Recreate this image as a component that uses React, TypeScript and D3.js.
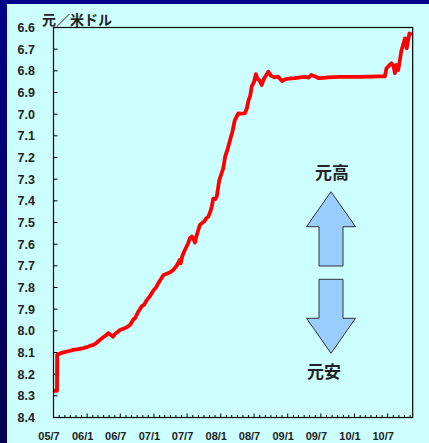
import React from 'react'
import * as d3 from 'd3'

// 人民元の対ドルレート（元／米ドル）
const dates = [
  '2005-07-01', '2005-07-20', '2005-07-21', '2005-08-10', '2005-09-05', '2005-10-01', '2005-10-17',
  '2005-11-15', '2005-12-11', '2006-01-05', '2006-01-20', '2006-02-05', '2006-02-22', '2006-03-11',
  '2006-03-30', '2006-04-15', '2006-04-26', '2006-05-08', '2006-05-23', '2006-06-05', '2006-06-18',
  '2006-06-29', '2006-07-20', '2006-08-08', '2006-08-23', '2006-09-12', '2006-09-20', '2006-10-07',
  '2006-10-28', '2006-11-08', '2006-11-23', '2006-12-10', '2006-12-28', '2007-01-12', '2007-01-25',
  '2007-02-10', '2007-02-22', '2007-03-15', '2007-04-02', '2007-04-16', '2007-05-05', '2007-05-22',
  '2007-05-27', '2007-06-05', '2007-06-19', '2007-07-05', '2007-07-16', '2007-07-28', '2007-08-06',
  '2007-08-13', '2007-08-22', '2007-09-09', '2007-09-25', '2007-10-05', '2007-10-12', '2007-10-25',
  '2007-11-05', '2007-11-13', '2007-11-21', '2007-12-03', '2007-12-10', '2007-12-24', '2008-01-10',
  '2008-01-15', '2008-01-25', '2008-02-08', '2008-02-21', '2008-03-05', '2008-03-18', '2008-04-06',
  '2008-04-22', '2008-05-12', '2008-05-22', '2008-06-01', '2008-06-10', '2008-06-18', '2008-07-01',
  '2008-07-11', '2008-07-20', '2008-08-01', '2008-08-12', '2008-08-25', '2008-09-05', '2008-09-17',
  '2008-10-01', '2008-10-20', '2008-11-10', '2008-12-01', '2008-12-20', '2009-01-15', '2009-02-10',
  '2009-03-10', '2009-04-05', '2009-04-25', '2009-05-10', '2009-06-01', '2009-06-20', '2009-07-15',
  '2009-08-10', '2009-09-10', '2009-10-10', '2009-11-10', '2009-12-10', '2010-01-10', '2010-02-10',
  '2010-03-10', '2010-04-10', '2010-05-10', '2010-06-16', '2010-06-25', '2010-07-10', '2010-07-22',
  '2010-08-02', '2010-08-10', '2010-08-16', '2010-08-22', '2010-08-28', '2010-09-15', '2010-10-04',
  '2010-10-13', '2010-10-28', '2010-11-10',
]
const rates = [
  8.2765, 8.2765, 8.110, 8.103, 8.097, 8.092, 8.088,
  8.084, 8.080, 8.074, 8.068, 8.065, 8.055, 8.042,
  8.030, 8.020, 8.011, 8.017, 8.027, 8.012, 8.004,
  7.996, 7.990, 7.982, 7.973, 7.945, 7.942, 7.912,
  7.885, 7.880, 7.858, 7.840, 7.815, 7.800, 7.780,
  7.758, 7.742, 7.735, 7.728, 7.719, 7.700, 7.673,
  7.688, 7.655, 7.627, 7.600, 7.573, 7.565, 7.578,
  7.593, 7.560, 7.511, 7.500, 7.493, 7.482, 7.473,
  7.450, 7.427, 7.390, 7.392, 7.381, 7.304, 7.262,
  7.250, 7.196, 7.160, 7.119, 7.080, 7.027, 6.996,
  6.998, 6.996, 6.975, 6.935, 6.915, 6.873, 6.850,
  6.815, 6.838, 6.845, 6.865, 6.835, 6.820, 6.804,
  6.822, 6.830, 6.827, 6.847, 6.838, 6.835, 6.834,
  6.830, 6.828, 6.831, 6.819, 6.826, 6.834, 6.832,
  6.830, 6.829, 6.828, 6.828, 6.828, 6.828, 6.828,
  6.827, 6.827, 6.826, 6.826, 6.788, 6.775, 6.765,
  6.778, 6.811, 6.773, 6.785, 6.796, 6.704, 6.650,
  6.696, 6.627, 6.635,
]

const yTickValues = [6.6, 6.7, 6.8, 6.9, 7.0, 7.1, 7.2, 7.3, 7.4, 7.5, 7.6, 7.7, 7.8, 7.9, 8.0, 8.1, 8.2, 8.3, 8.4]
const xTickDates = ['2005-07-01', '2006-01-01', '2006-07-01', '2007-01-01', '2007-07-01', '2008-01-01',
  '2008-07-01', '2009-01-01', '2009-07-01', '2010-01-01', '2010-07-01']
const xTickLabels = ['05/7', '06/1', '06/7', '07/1', '07/7', '08/1', '08/7', '09/1', '09/7', '10/1', '10/7']

const W = 429
const H = 443
const plot = { left: 53.5, top: 27.5, right: 412.7, bottom: 417.5 }

const parse = d3.timeParse('%Y-%m-%d')

export default function App() {
  const x = d3.scaleTime()
    .domain([new Date(2005, 6, 1), new Date(2010, 10, 15)])
    .range([plot.left, plot.right])
  const y = d3.scaleLinear().domain([6.6, 8.4]).range([plot.top, plot.bottom])

  const points = dates.map((d, i) => [parse(d) as Date, rates[i]] as [Date, number])
  const line = d3.line<[Date, number]>().x(d => x(d[0])).y(d => y(d[1]))

  const months = d3.timeMonth.range(new Date(2005, 7, 1), new Date(2010, 10, 15))

  const numFont = '"Liberation Sans", Arial, sans-serif'
  const jpFont = '"Noto Sans CJK JP", sans-serif'
  const ink = '#222'

  // 矢印（元高／元安）
  const ax = 331
  const upArrow = `M${ax},191.7 L${ax + 24.5},226.7 L${ax + 12},226.7 L${ax + 12},266 L${ax - 12},266 L${ax - 12},226.7 L${ax - 24.5},226.7 Z`
  const downArrow = `M${ax},353.3 L${ax + 24.5},318.3 L${ax + 12},318.3 L${ax + 12},279.3 L${ax - 12},279.3 L${ax - 12},318.3 L${ax - 24.5},318.3 Z`

  return (
    <div style={{ position: 'absolute', left: 0, top: 0 }}>
      <svg width={W} height={H} style={{ display: 'block' }}>
        <defs>
          <linearGradient id="navy" x1="0" y1="0" x2="0" y2="1">
            <stop offset="0" stopColor="#00008a" />
            <stop offset="1" stopColor="#000050" />
          </linearGradient>
        </defs>
        <rect x={0} y={0} width={W} height={H} fill="url(#navy)" />
        <rect x={7} y={4} width={W - 7} height={H - 4} fill="#ccffff" />

        <text x={42} y={25} fontFamily={jpFont} fontSize={14} fontWeight="bold" fill={ink}>元／米ドル</text>

        {/* y axis */}
        {yTickValues.map(v => (
          <g key={v}>
            <line x1={plot.left} x2={plot.left + 4} y1={y(v)} y2={y(v)} stroke="#000" strokeWidth={1} />
            <text x={35} y={y(v)} dy="0.36em" textAnchor="end" fontFamily={numFont} fontSize={12.5}
              fontWeight="bold" fill={ink}>{v.toFixed(1)}</text>
          </g>
        ))}

        {/* x axis */}
        {months.map(m => {
          const major = m.getMonth() === 0 || m.getMonth() === 6
          return (
            <line key={+m} x1={x(m)} x2={x(m)} y1={plot.bottom} y2={plot.bottom - (major ? 4 : 2.5)}
              stroke="#000" strokeWidth={1} />
          )
        })}
        {xTickDates.map((d, i) => (
          <text key={d} x={x(parse(d) as Date) - 4.5} y={440} textAnchor="middle" fontFamily={numFont}
            fontSize={11} fontWeight="bold" fill={ink}>{xTickLabels[i]}</text>
        ))}

        <path d={line(points) ?? ''} fill="none" stroke="#ff0000" strokeWidth={3.8} strokeLinejoin="round" />

        <rect x={plot.left} y={plot.top} width={plot.right - plot.left} height={plot.bottom - plot.top}
          fill="none" stroke="#000" strokeWidth={1.2} />

        <text x={332} y={179} textAnchor="middle" fontFamily={jpFont} fontSize={17} fontWeight="bold" fill={ink}>元高</text>
        <path d={upArrow} fill="#99ccff" stroke="#333" strokeWidth={1} />
        <path d={downArrow} fill="#99ccff" stroke="#333" strokeWidth={1} />
        <text x={324} y={378} textAnchor="middle" fontFamily={jpFont} fontSize={17} fontWeight="bold" fill={ink}>元安</text>
      </svg>
    </div>
  )
}
